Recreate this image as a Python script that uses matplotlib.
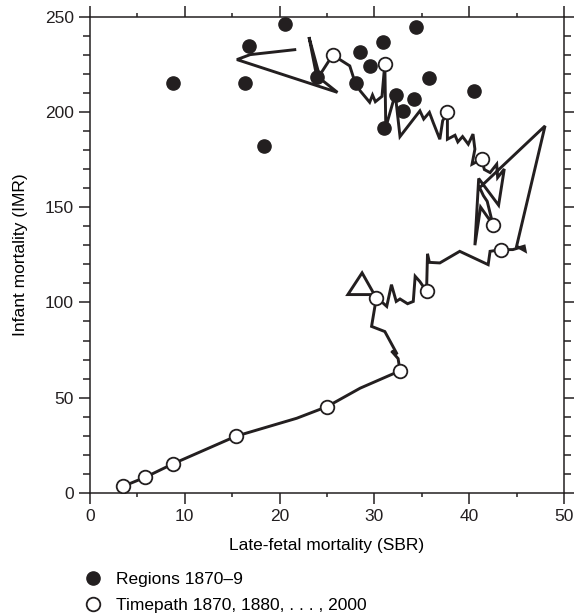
import matplotlib
matplotlib.use('Agg')
import matplotlib.pyplot as plt
from matplotlib.lines import Line2D
from matplotlib.ticker import MultipleLocator

plt.rcParams['font.family'] = ['Liberation Sans', 'DejaVu Sans']

# Regional values 1870-9 (filled dots)
sbr_regions = [8.8, 16.3, 16.8, 18.4, 20.6, 23.9, 28.1, 28.5, 29.5, 30.9,
               31.0, 32.3, 33.0, 34.2, 34.4, 35.8, 40.5]
imr_regions = [215.1, 215.0, 234.7, 181.8, 246.2, 218.5, 215.0, 231.3, 224.0, 236.5,
               191.5, 208.8, 200.3, 206.7, 244.4, 217.7, 211.0]

# National time path (yearly vertices)
sbr_path = [21.6, 16.9, 15.5, 26.1, 23.9, 23.1, 24.2, 25.6,
            27.4, 27.9, 28.5, 29.5, 29.8, 30.1, 30.8, 31.1,
            31.2, 32.2, 32.7, 34.8, 35.2, 35.8, 36.2, 36.9, 37.2, 37.7,
            37.7, 38.5, 38.8, 39.3, 39.9, 40.4, 40.6, 40.3, 41.3,
            41.6, 42.2, 42.9, 43.0, 43.7, 43.1, 41.0, 40.6, 41.2, 42.5,
            41.9, 41.5, 41.1, 48.0, 45.0, 45.9, 45.8, 44.6, 43.4,
            42.2, 42.0, 39.0, 36.9, 35.8, 35.6, 35.5,
            34.8, 34.3, 34.1, 33.5, 32.7, 32.3, 31.8, 31.3, 30.9, 29.7, 27.2, 28.7, 30.2,
            29.7, 31.1, 32.4, 31.8, 32.5, 32.7,
            28.5, 25.0,
            21.8, 15.4,
            8.75, 5.85, 3.5]
imr_path = [232.6, 230.0, 227.4, 210.2, 218.9, 239.2, 219.0, 229.8,
            224.1, 216.3, 211.0, 205.0, 208.8, 205.3, 208.1, 225.3,
            191.8, 209.3, 187.0, 200.5, 196.2, 199.7, 194.4, 185.6, 195.3, 199.7,
            185.6, 187.7, 184.2, 187.0, 183.0, 188.3, 180.4, 172.5, 175.1,
            169.7, 168.1, 172.5, 165.5, 170.0, 151.0, 165.0, 130.0, 150.0, 140.8,
            153.0, 156.0, 160.2, 192.6, 129.5, 127.0, 129.5, 127.7, 127.7,
            126.8, 119.8, 126.8, 120.7, 121.0, 125.5, 105.8,
            110.9, 113.7, 100.5, 99.3, 101.8, 100.5, 109.3, 97.9, 99.7, 104.1, 104.1, 115.5, 102.3,
            87.4, 84.7, 72.8, 74.5, 70.5, 64.1,
            55.0, 45.3,
            39.2, 29.8,
            15.3, 8.3, 3.5]

# Decade markers 1870, 1880, ..., 2000 (open circles)
sbr_decades = [25.6, 31.1, 37.7, 41.3, 42.5, 43.4, 35.5, 30.2, 32.7, 25.0, 15.4, 8.75, 5.85, 3.5]
imr_decades = [229.8, 225.3, 199.7, 175.1, 140.8, 127.7, 105.8, 102.3, 64.1, 45.3, 29.8, 15.3, 8.3, 3.5]

fs = 12.5

fig = plt.figure(figsize=(5.74, 6.16), dpi=100)
ax = fig.add_axes([0.1568, 0.1997, 0.8258, 0.7735])

ax.plot(sbr_path, imr_path, color='#231f20', lw=2.1, zorder=2, solid_joinstyle='miter')
ax.plot(sbr_regions, imr_regions, 'o', color='#231f20', ms=9.5, zorder=3)
ax.plot(sbr_decades, imr_decades, 'o', mfc='white', mec='#231f20', mew=1.3, ms=9.8, zorder=4)

ax.set_xlim(0, 50)
ax.set_ylim(0, 250)
ax.xaxis.set_major_locator(MultipleLocator(10))
ax.xaxis.set_minor_locator(MultipleLocator(5))
ax.yaxis.set_major_locator(MultipleLocator(50))
ax.yaxis.set_minor_locator(MultipleLocator(10))
ax.tick_params(which='both', direction='out', top=True, right=True, width=1.1,
               labelsize=fs, colors='#231f20')
ax.tick_params(axis='x', which='major', length=8)
ax.tick_params(axis='x', which='minor', length=3)
ax.tick_params(axis='y', which='major', length=8)
ax.tick_params(axis='y', which='minor', length=5)
for s in ax.spines.values():
    s.set_linewidth(1.1)
    s.set_color('#231f20')

ax.set_xlabel('Late-fetal mortality (SBR)', fontsize=fs, labelpad=10)
ax.set_ylabel('Infant mortality (IMR)', fontsize=fs, labelpad=12)

handles = [
    Line2D([], [], ls='none', marker='o', color='#231f20', ms=9.5),
    Line2D([], [], ls='none', marker='o', mfc='white', mec='#231f20', mew=1.3, ms=9.8),
]
fig.legend(handles, ['Regions 1870\u20139', 'Timepath 1870, 1880, . . . , 2000'],
           loc='upper left', bbox_to_anchor=(0.1485, 0.071), frameon=False,
           fontsize=fs, borderpad=0, borderaxespad=0, handlelength=0.9,
           handletextpad=0.85, labelspacing=0.6)

fig.savefig('out.png', dpi=100)
